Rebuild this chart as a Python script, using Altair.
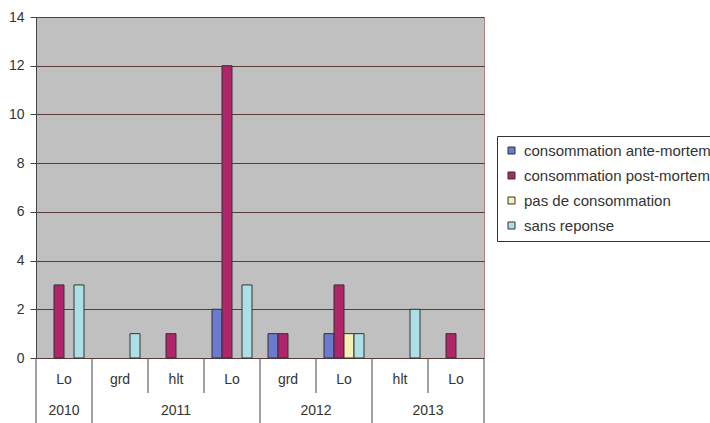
import altair as alt
import pandas as pd

# Category axis: site codes grouped by year
years = ["2010", "2011", "2011", "2011", "2012", "2012", "2013", "2013"]
sites = ["Lo", "grd", "hlt", "Lo", "grd", "Lo", "hlt", "Lo"]

series = [
    "consommation ante-mortem",
    "consommation post-mortem",
    "pas de consommation",
    "sans reponse",
]
ante = [0, 0, 0, 2, 1, 1, 0, 0]
post = [3, 0, 1, 12, 1, 3, 0, 1]
pas = [0, 0, 0, 0, 0, 1, 0, 0]
sans = [3, 1, 0, 3, 0, 1, 2, 0]

colors = ["#6b7bcf", "#b0256a", "#f6f0b4", "#ade0e6"]
y_ticks = [0, 2, 4, 6, 8, 10, 12, 14]

FONT = "Liberation Sans"
TXT = "#333333"

cats = [f"{y}|{s}" for y, s in zip(years, sites)]

rows = []
for name, vals in zip(series, [ante, post, pas, sans]):
    for c, v in zip(cats, vals):
        if v:
            rows.append({"cat": c, "series": name, "value": v})
bars_df = pd.DataFrame(rows)

labels_df = pd.DataFrame(
    {"idx": range(len(cats)), "site": sites, "year": years}
)
labels_df["mid"] = labels_df["idx"] + 0.5

# boundaries of the label table: full height where a new year starts
bounds = []
for i in range(len(cats) + 1):
    full = i == 0 or i == len(cats) or years[i] != years[i - 1]
    bounds.append({"pos": i, "full": full})
bounds_df = pd.DataFrame(bounds)

year_df = (
    labels_df.groupby("year", as_index=False)
    .agg(first=("idx", "min"), last=("idx", "max"))
)
year_df["mid"] = (year_df["first"] + year_df["last"] + 1) / 2

W, H = 448, 341

bars = (
    alt.Chart(bars_df)
    .mark_bar(stroke="#333333", strokeWidth=1)
    .encode(
        x=alt.X(
            "cat:N",
            scale=alt.Scale(domain=cats, paddingInner=0, paddingOuter=0),
            axis=None,
        ),
        xOffset=alt.XOffset(
            "series:N",
            scale=alt.Scale(domain=series, paddingInner=0, paddingOuter=0.8),
        ),
        y=alt.Y(
            "value:Q",
            scale=alt.Scale(domain=[0, 14], nice=False),
            axis=alt.Axis(
                values=y_ticks,
                title=None,
                grid=True,
                gridColor="#5b3a3a",
                gridWidth=1.2,
                gridOpacity=1,
                domainColor="#444444",
                tickColor="#444444",
                tickSize=6,
                labelFont=FONT,
                labelFontSize=14,
                labelColor=TXT,
                labelPadding=6,
            ),
        ),
        color=alt.Color(
            "series:N",
            scale=alt.Scale(domain=series, range=colors),
            legend=alt.Legend(
                title=None,
                orient="none",
                legendX=461,
                legendY=119,
                direction="vertical",
                strokeColor="#333333",
                fillColor="#ffffff",
                padding=7,
                symbolType="square",
                symbolSize=49,
                symbolStrokeColor="#333333",
                symbolStrokeWidth=1,
                symbolOpacity=1,
                labelFont=FONT,
                labelFontSize=15,
                labelColor=TXT,
                labelLimit=400,
                labelOffset=5,
                rowPadding=9,
            ),
        ),
    )
)

x_q = alt.Scale(domain=[0, len(cats)], nice=False, zero=False)

short_lines = (
    alt.Chart(bounds_df)
    .transform_filter("!datum.full")
    .mark_rule(color="#444444", strokeWidth=1)
    .encode(
        x=alt.X("pos:Q", scale=x_q, axis=None),
        y=alt.value(H + 1),
        y2=alt.value(H + 35),
    )
)

full_lines = (
    alt.Chart(bounds_df)
    .transform_filter("datum.full")
    .mark_rule(color="#444444", strokeWidth=1)
    .encode(
        x=alt.X("pos:Q", scale=x_q, axis=None),
        y=alt.value(H + 1),
        y2=alt.value(H + 70),
    )
)

site_text = (
    alt.Chart(labels_df)
    .mark_text(font=FONT, fontSize=14, color=TXT, baseline="middle")
    .encode(
        x=alt.X("mid:Q", scale=x_q, axis=None),
        y=alt.value(H + 22),
        text="site:N",
    )
)

year_text = (
    alt.Chart(year_df)
    .mark_text(font=FONT, fontSize=14, color=TXT, baseline="middle")
    .encode(
        x=alt.X("mid:Q", scale=x_q, axis=None),
        y=alt.value(H + 53),
        text="year:N",
    )
)

table = alt.layer(short_lines, full_lines, site_text, year_text)

chart = (
    alt.layer(bars, table)
    .resolve_scale(x="independent")
    .properties(
        width=W,
        height=H,
        autosize=alt.AutoSizeParams(type="none"),
        padding={"left": 36, "top": 17, "right": 226, "bottom": 65},
    )
    .configure(background="#ffffff")
    .configure_view(fill="#c0c0c0", stroke="#b08080", strokeWidth=1)
)

chart.save("out.html", embed_options={"renderer": "svg", "actions": False})
